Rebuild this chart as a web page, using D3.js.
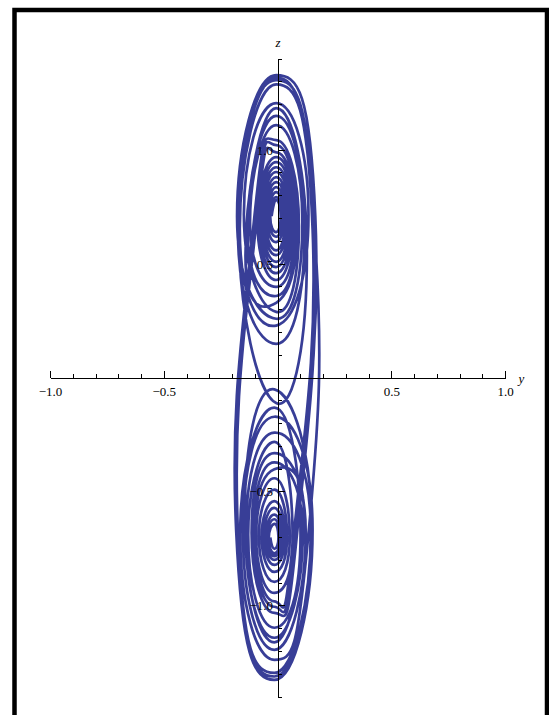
<!DOCTYPE html>
<html>
    <head>
        <meta charset="utf-8">
        <title></title>
        <style>
         body { margin: 0; background: #fff; }
         svg text { font-family: "Liberation Serif", "DejaVu Serif", serif; font-size: 13px; fill: #000; }
         .axis line { stroke: #000; stroke-width: 1; fill: none; shape-rendering: crispEdges; }
         .orbit { fill: none; stroke: #383e97; stroke-width: 2.7; stroke-linejoin: round; }
        </style>
    </head>
    <body>
        <svg width="549" height="715"></svg>

        <script src="https://cdn.jsdelivr.net/npm/d3@7"></script>
        <script>

         // tick labels
         var yTickLabels = [-1.0, -0.5, 0.5, 1.0];
         var zTickLabels = [-1.0, -0.5, 0.5, 1.0];

         // one entry per turn of the orbit, in the order it is traced:
         // lobe (+1 upper, -1 lower), far end (top / bottom), near end, half width
         var lobe = [ 1, 1, 1, 1, 1, 1, 1, 1, 1, 1, 1, 1,
                     -1,-1,-1,
                      1, 1, 1,
                     -1,-1,-1,
                      1, 1, 1,
                     -1,-1,-1,
                      1, 1, 1,
                     -1,-1,-1,-1,-1,-1,-1,-1,-1,-1];
         var zFar = [ 0.781, 0.794, 0.816, 0.838, 0.860, 0.882, 0.904, 0.925, 0.947, 0.969, 1.110, 1.329,
                     -1.004,-1.140,-1.294,
                      1.022, 1.184, 1.307,
                     -1.031,-1.193,-1.325,
                      1.044, 1.206, 1.289,
                     -0.980,-1.160,-1.310,
                      0.990, 1.150, 1.318,
                     -1.237,-1.096,-0.943,-0.895,-0.851,-0.820,-0.798,-0.782,-0.770,-0.750];
         var zNear = [ 0.640, 0.620, 0.596, 0.560, 0.539, 0.510, 0.487, 0.460, 0.430, 0.400, 0.260, 0.090,
                      -0.370,-0.240,-0.060,
                       0.330,-0.110, 0.050,
                      -0.330,-0.170,-0.010,
                       0.290, 0.230, 0.020,
                      -0.400,-0.050,-0.030,
                       0.360, 0.150,-0.020,
                      -0.130,-0.280,-0.440,-0.490,-0.540,-0.570,-0.600,-0.620,-0.640,-0.650];
         var halfW = [ 0.020, 0.026, 0.033, 0.040, 0.047, 0.054, 0.061, 0.068, 0.075, 0.082, 0.115, 0.172,
                       0.092, 0.125, 0.160,
                       0.092, 0.135, 0.165,
                       0.100, 0.138, 0.168,
                       0.100, 0.142, 0.160,
                       0.085, 0.130, 0.165,
                       0.088, 0.125, 0.168,
                       0.150, 0.115, 0.080, 0.068, 0.056, 0.047, 0.039, 0.032, 0.025, 0.018];
         // sideways offset of each lobe's centre (upper, lower)
         var lobeShift = [-0.008, -0.016];

         var svg = d3.select('svg');

         // frame
         svg.append('path')
            .attr('d', 'M14.5,715 L14.5,10 L547,10 L547,715')
            .attr('fill', 'none')
            .attr('stroke', '#000')
            .attr('stroke-width', 4.5);

         var x = d3.scaleLinear().domain([-1, 1]).range([50.5, 505.5]);
         var z = d3.scaleLinear().domain([-1.4, 1.4]).range([697, 59]);

         /*
          * orbit: every turn runs clockwise; the upper lobe is entered on
          * its left side, the lower lobe on its right side
          */
         var pts = [];
         for (var i = 0; i < lobe.length; i++) {
             var c = lobeShift[lobe[i] > 0 ? 0 : 1];
             var mid = (zFar[i] + zNear[i]) / 2;
             var stay = i + 1 < lobe.length && lobe[i + 1] === lobe[i];
             if (lobe[i] > 0) {
                 pts.push([c - halfW[i], mid]);
                 pts.push([c, zFar[i]]);
                 pts.push([c + halfW[i], mid]);
             } else {
                 pts.push([c + halfW[i], mid]);
                 pts.push([c, zFar[i]]);
                 pts.push([c - halfW[i], mid]);
             }
             if (stay) pts.push([c, zNear[i]]);
         }

         var line = d3.line()
                      .x(function(d) { return x(d[0]); })
                      .y(function(d) { return z(d[1]); })
                      .curve(d3.curveCardinal.tension(-0.65));

         svg.append('path')
            .attr('class', 'orbit')
            .attr('d', line(pts));

         /*
          * axes crossing at the origin
          */
         var x0 = x(0), z0 = z(0);
         var fmt = function(d) { return d3.format('.1f')(d).replace('-', '\u2212'); };

         var hAxis = svg.append('g').attr('class', 'axis');
         hAxis.append('line')
              .attr('x1', x(-1)).attr('x2', x(1))
              .attr('y1', z0).attr('y2', z0);
         hAxis.selectAll('.minor')
              .data(d3.range(-10, 11).filter(function(k) { return k % 5 !== 0; }))
              .enter().append('line')
              .attr('x1', function(k) { return x(k / 10); })
              .attr('x2', function(k) { return x(k / 10); })
              .attr('y1', z0).attr('y2', z0 - 4);
         hAxis.selectAll('.major')
              .data([-1, -0.5, 0.5, 1])
              .enter().append('line')
              .attr('x1', function(d) { return x(d); })
              .attr('x2', function(d) { return x(d); })
              .attr('y1', z0).attr('y2', z0 - 7);
         svg.selectAll('.ylab')
            .data(yTickLabels)
            .enter().append('text')
            .attr('x', function(d) { return x(d); })
            .attr('y', z0 + 18)
            .attr('text-anchor', 'middle')
            .text(fmt);

         var vAxis = svg.append('g').attr('class', 'axis');
         vAxis.append('line')
              .attr('x1', x0).attr('x2', x0)
              .attr('y1', z(-1.4)).attr('y2', z(1.4));
         vAxis.selectAll('.minor')
              .data(d3.range(-14, 15).filter(function(k) { return k % 5 !== 0; }))
              .enter().append('line')
              .attr('x1', x0).attr('x2', x0 + 4)
              .attr('y1', function(k) { return z(k / 10); })
              .attr('y2', function(k) { return z(k / 10); });
         vAxis.selectAll('.major')
              .data([-1, -0.5, 0.5, 1])
              .enter().append('line')
              .attr('x1', x0).attr('x2', x0 + 7)
              .attr('y1', function(d) { return z(d); })
              .attr('y2', function(d) { return z(d); });
         svg.selectAll('.zlab')
            .data(zTickLabels)
            .enter().append('text')
            .attr('x', x0 - 5)
            .attr('y', function(d) { return z(d) + 4.5; })
            .attr('text-anchor', 'end')
            .text(fmt);

         // axis names
         svg.append('text')
            .attr('x', x0).attr('y', 47)
            .attr('text-anchor', 'middle')
            .style('font-style', 'italic')
            .text('z');
         svg.append('text')
            .attr('x', x(1) + 13).attr('y', z0 + 5)
            .style('font-style', 'italic')
            .text('y');
        </script>
    </body>
</html>
